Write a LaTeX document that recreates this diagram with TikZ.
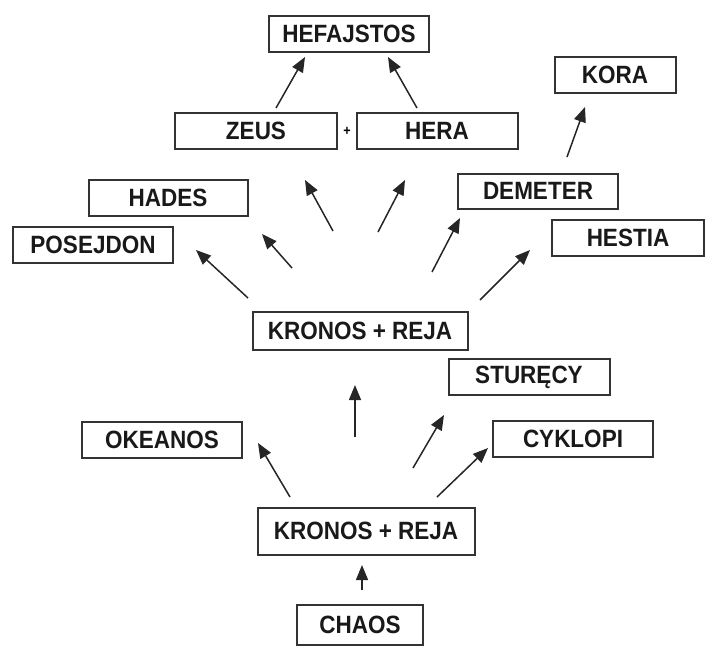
\documentclass[tikz,border=0pt]{standalone}
\usepackage{fontspec}
\setmainfont{Liberation Sans}[FakeStretch=0.9]
\usetikzlibrary{arrows.meta}

\begin{document}
\begin{tikzpicture}[x=1pt,y=-1pt,
  box/.style={draw=black!80,line width=2pt,fill=white,inner sep=0pt,
    minimum width=160pt,minimum height=36pt,
    font=\fontsize{25}{28}\selectfont\bfseries,text=black!90},
  arr/.style={draw=black!85,line width=1.5pt,-{Triangle[length=15pt,width=12pt]}}]
  \useasboundingbox (0,0) rectangle (707,648);
  % boxes
  \node[box] (hefajstos) at (349,34) {HEFAJSTOS};
  \node[box,minimum width=121pt] (kora) at (615,75) {KORA};
  \node[box,minimum width=162pt] (zeus) at (256,131) {ZEUS};
  \node[box,minimum width=161pt] (hera) at (437,131) {HERA};
  \node[font=\fontsize{14}{15}\selectfont\bfseries,inner sep=0pt] (plus) at (347,131) {+};
  \node[box,minimum width=159pt] (hades) at (168,198) {HADES};
  \node[box,minimum height=35pt] (demeter) at (538,191) {DEMETER};
  \node[box] (posejdon) at (93,245) {POSEJDON};
  \node[box,minimum width=152pt] (hestia) at (628,238) {HESTIA};
  \node[box,minimum width=215pt,minimum height=38pt] (kronosA) at (360,331) {KRONOS + REJA};
  \node[box,minimum width=161pt] (sturecy) at (529,377) {STURĘCY};
  \node[box] (okeanos) at (162,440) {OKEANOS};
  \node[box] (cyklopi) at (573,439) {CYKLOPI};
  \node[box,minimum width=217pt,minimum height=47pt] (kronosB) at (366,531) {KRONOS + REJA};
  \node[box,minimum width=126pt,minimum height=40pt] (chaos) at (360,625) {CHAOS};
  % arrow ends
  \coordinate (zeus1) at (276,108);    \coordinate (zeus2) at (305,57);
  \coordinate (hera1) at (417,108);    \coordinate (hera2) at (388,57);
  \coordinate (kora1) at (567,157);    \coordinate (kora2) at (585,107);
  \coordinate (a1) at (248,298); \coordinate (a2) at (196,250);
  \coordinate (b1) at (292,268); \coordinate (b2) at (262,234);
  \coordinate (c1) at (333,231); \coordinate (c2) at (305,180);
  \coordinate (d1) at (378,232); \coordinate (d2) at (405,180);
  \coordinate (e1) at (432,272); \coordinate (e2) at (460,218);
  \coordinate (f1) at (480,300); \coordinate (f2) at (530,250);
  \coordinate (g1) at (355,437); \coordinate (g2) at (355,385);
  \coordinate (h1) at (290,497); \coordinate (h2) at (258,443);
  \coordinate (i1) at (413,468); \coordinate (i2) at (444,415);
  \coordinate (j1) at (437,497); \coordinate (j2) at (488,448);
  \coordinate (k1) at (362,590); \coordinate (k2) at (362,565);
  \foreach \p in {zeus,hera,kora,a,b,c,d,e,f,g,h,i,j,k}
    \draw[arr] (\p1) -- (\p2);
\end{tikzpicture}
\end{document}
